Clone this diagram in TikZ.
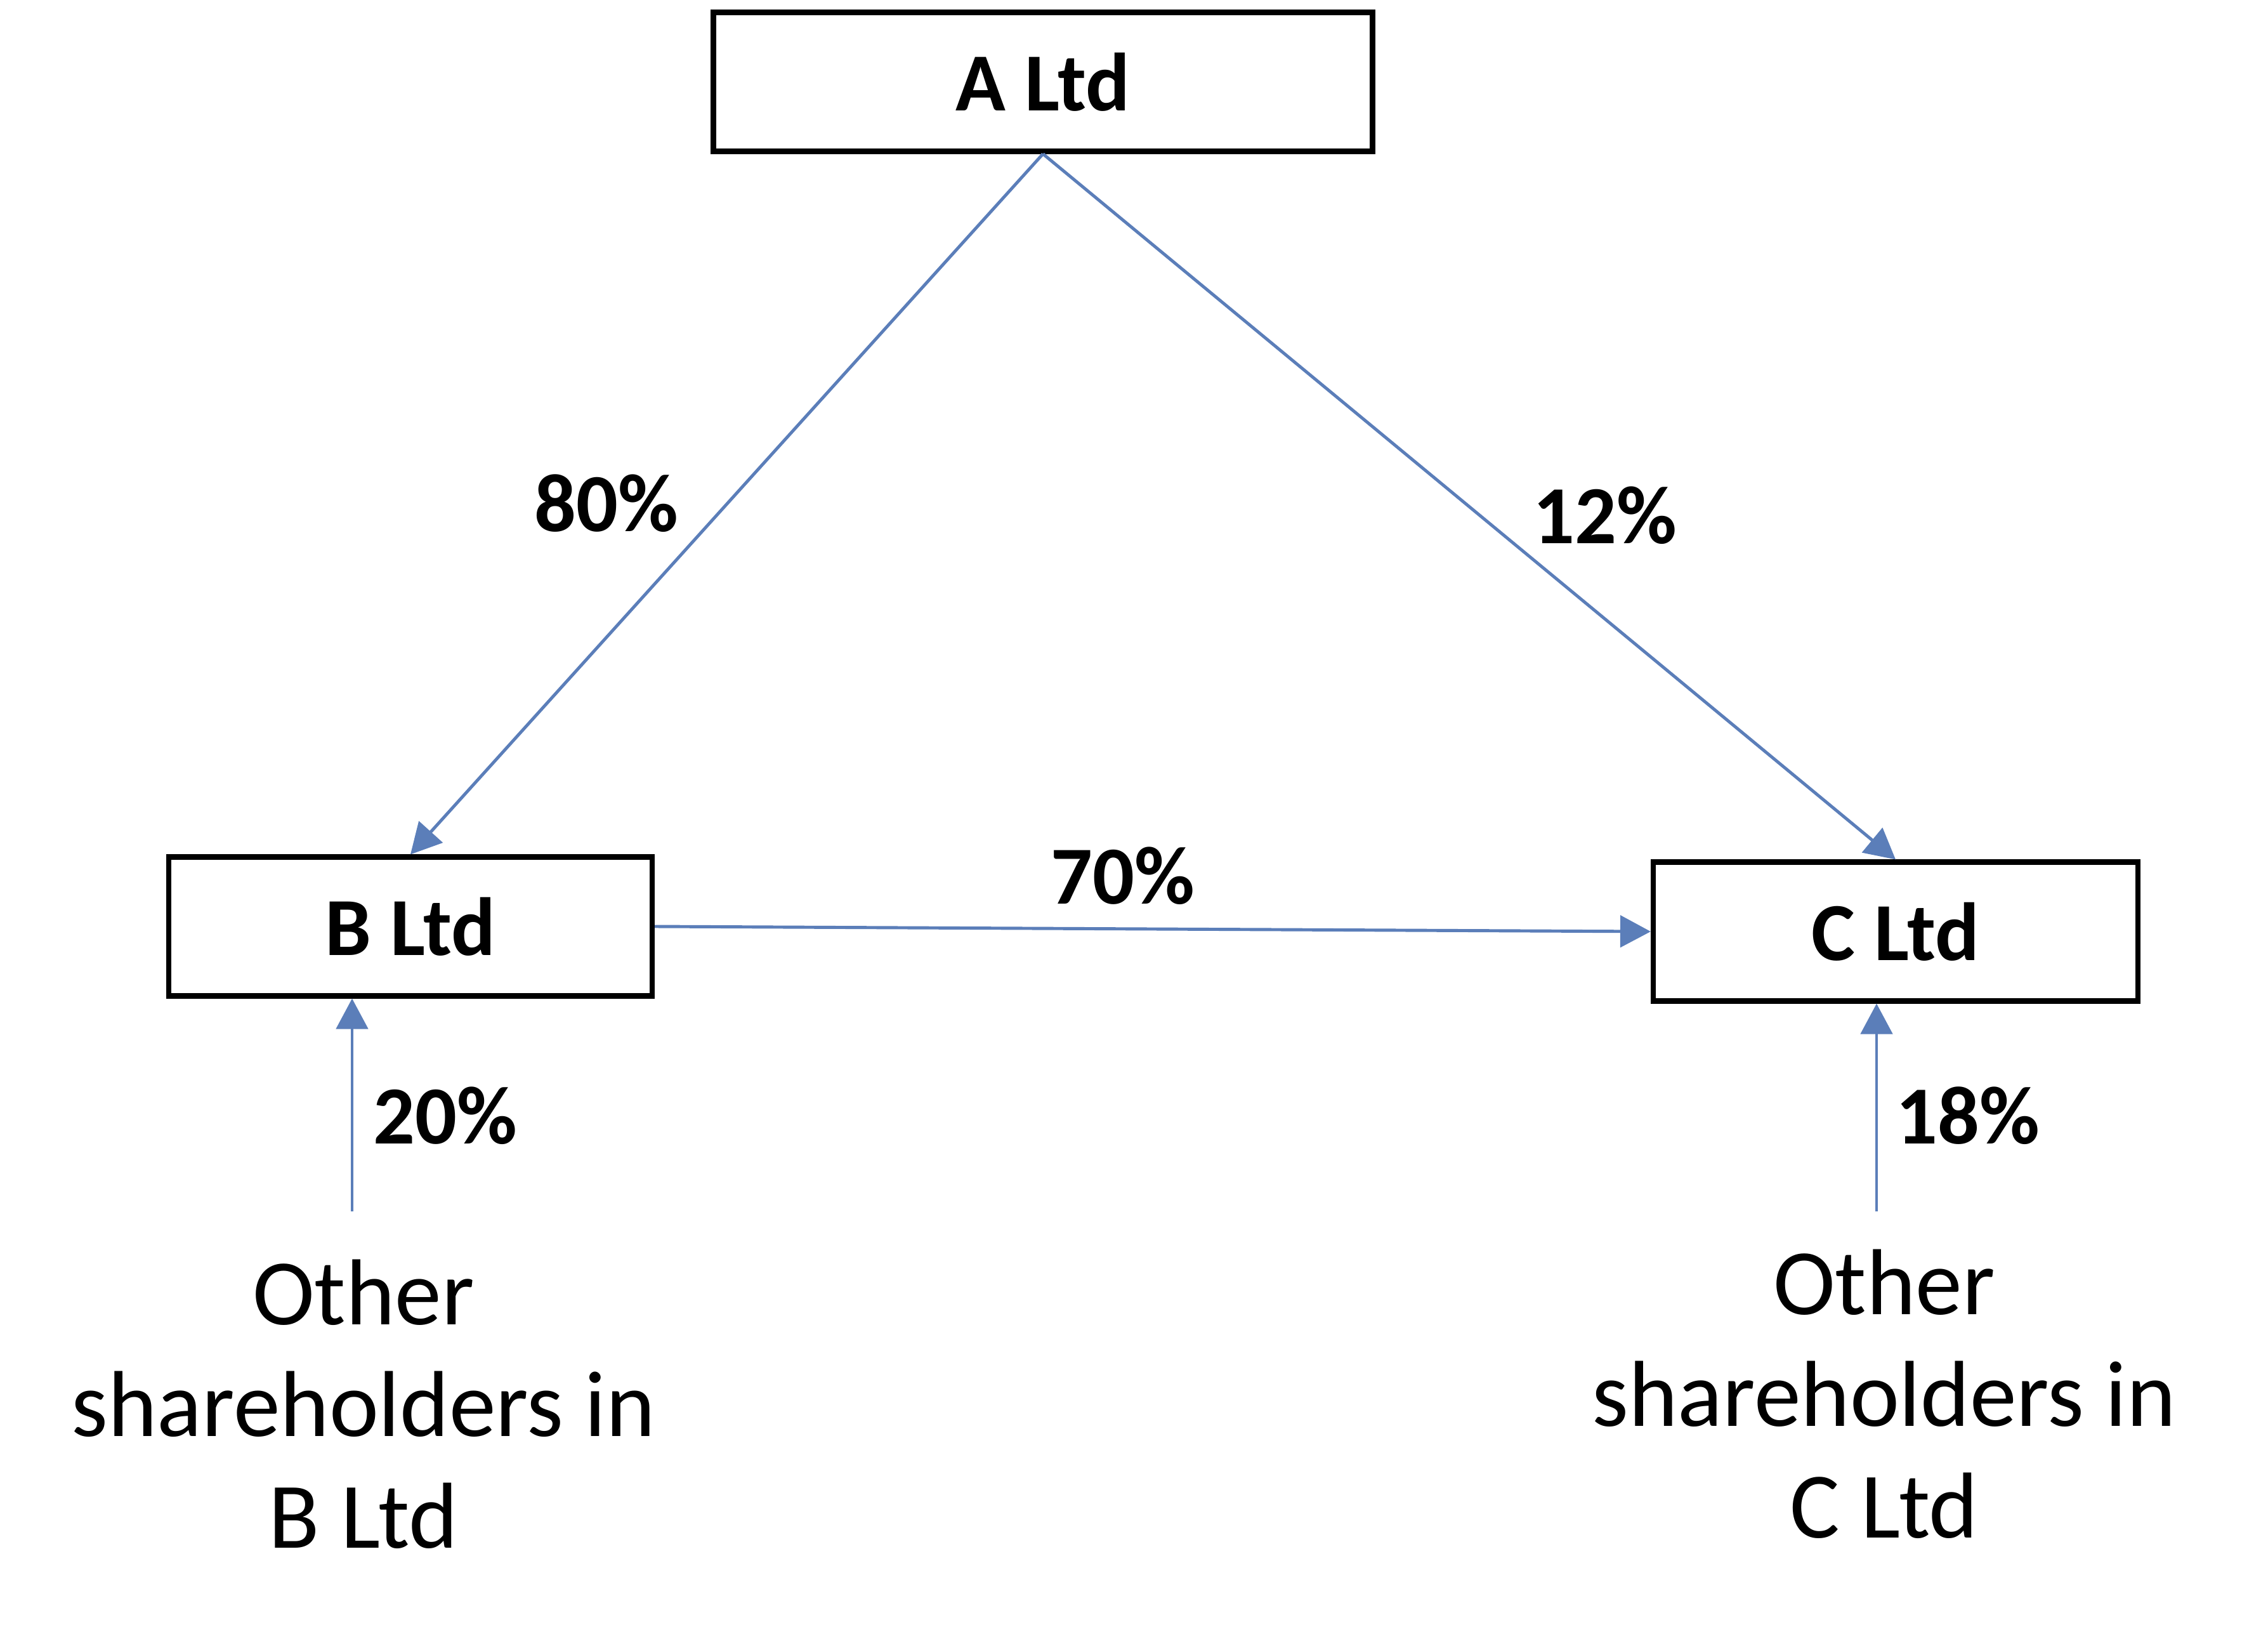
\documentclass[tikz,border=0pt]{standalone}
\usepackage{fontspec}
\setmainfont{Carlito}
\usepackage{tikz}
\usetikzlibrary{arrows.meta}
\definecolor{linkblue}{RGB}{91,126,185}

\begin{document}
\begin{tikzpicture}[
  company/.style={draw=black,line width=2.3pt,minimum width=#1,minimum height=2.19cm,
    inner sep=0pt,font=\fontsize{37}{44}\selectfont\bfseries},
  share/.style={inner sep=0pt,font=\fontsize{37}{44}\selectfont\bfseries},
  others/.style={align=center,inner sep=0pt,font=\fontsize{42}{50}\selectfont},
  link/.style={draw=linkblue,line width=1.4pt,-{Triangle[length=0.48cm,width=0.5cm]}}]
  \useasboundingbox (0,0) rectangle (35.75,-25.75);
  % companies
  \node[company=10.39cm] (altd) at (16.44,-1.29) {A Ltd};
  \node[company=7.62cm] (bltd) at (6.47,-14.60) {B Ltd};
  \node[company=7.64cm] (cltd) at (29.88,-14.68) {C Ltd};
  % outside holders
  \node[others] (otherb) at (5.73,-22.13) {Other\\shareholders in\\B Ltd};
  \node[others] (otherc) at (29.70,-21.97) {Other\\shareholders in\\C Ltd};
  \coordinate (srcb) at (5.55,-19.09);
  \coordinate (srcc) at (29.58,-19.09);
  % holdings
  \draw[link] (altd.south) -- (bltd.north);
  \draw[link] (altd.south) -- (cltd.north);
  \draw[link] (bltd.east) -- (cltd.west);
  \draw[link] (srcb) -- (srcb |- bltd.south);
  \draw[link] (srcc) -- (srcc |- cltd.south);
  \node[share] (pab) at (9.56,-7.93) {80\%};
  \node[share] (pac) at (25.30,-8.12) {12\%};
  \node[share] (pbc) at (17.70,-13.80) {70\%};
  \node[share] (pob) at (7.02,-17.58) {20\%};
  \node[share] (poc) at (31.02,-17.58) {18\%};
\end{tikzpicture}
\end{document}
